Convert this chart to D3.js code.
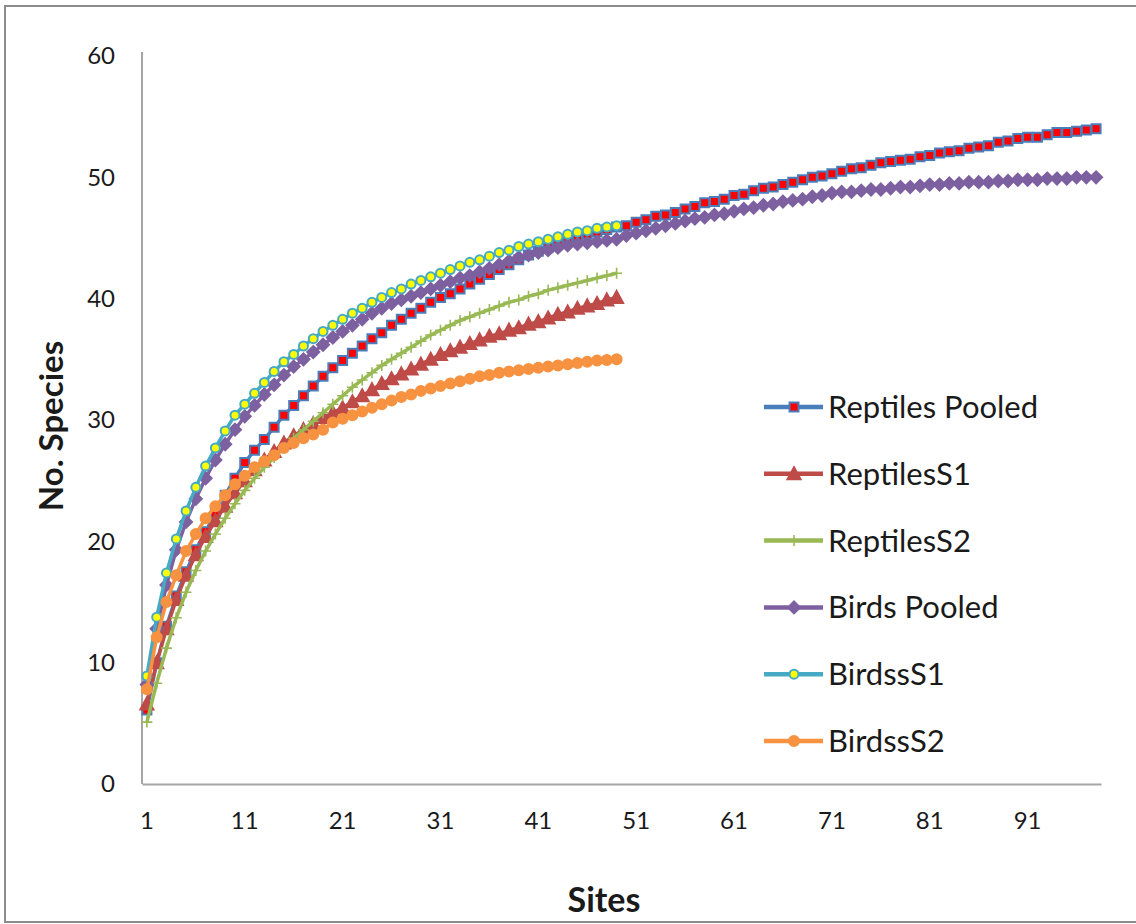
<!DOCTYPE html>
<html>
<head>
<meta charset="utf-8">
<script src="https://cdn.jsdelivr.net/npm/d3@7/dist/d3.min.js"></script>
<style>
  body { margin: 0; background: #fff; }
  svg text { font-family: Lato, "Liberation Sans", sans-serif; fill: #1a1a1a; }
</style>
</head>
<body>
<div id="chart"></div>
<script>
// species accumulation values
var seriesNames = ['Reptiles Pooled', 'ReptilesS1', 'ReptilesS2', 'Birds Pooled', 'BirdssS1', 'BirdssS2'];

var reptilesPooled = [
  6.1, 10.0, 13.0, 15.5, 17.5, 19.3, 20.8, 22.3, 23.8, 25.2,
  26.5, 27.5, 28.4, 29.4, 30.4, 31.2, 32.0, 32.8, 33.6, 34.3,
  34.9, 35.5, 36.1, 36.7, 37.2, 37.8, 38.3, 38.8, 39.2, 39.7,
  40.1, 40.4, 40.8, 41.2, 41.6, 42.0, 42.4, 42.8, 43.2, 43.6,
  43.9, 44.2, 44.5, 44.8, 45.0, 45.3, 45.5, 45.7, 45.9, 46.0,
  46.3, 46.5, 46.8, 46.9, 47.1, 47.4, 47.6, 47.9, 48.0, 48.2,
  48.5, 48.6, 48.9, 49.1, 49.2, 49.4, 49.6, 49.8, 50.0, 50.1,
  50.3, 50.5, 50.7, 50.8, 51.0, 51.2, 51.3, 51.4, 51.5, 51.7,
  51.8, 52.0, 52.1, 52.2, 52.4, 52.5, 52.6, 52.9, 53.0, 53.2,
  53.3, 53.3, 53.5, 53.7, 53.7, 53.8, 53.9, 54.0
];
var reptilesS1 = [
  6.6, 10.0, 12.8, 15.2, 17.2, 18.9, 20.4, 21.7, 22.9, 24.0,
  25.0, 25.9, 26.7, 27.4, 28.1, 28.7, 29.2, 29.7, 30.2, 30.6,
  31.0, 31.5, 32.0, 32.5, 33.0, 33.4, 33.8, 34.2, 34.6, 35.0,
  35.4, 35.7, 36.0, 36.3, 36.6, 36.9, 37.1, 37.4, 37.6, 37.9,
  38.1, 38.4, 38.7, 38.9, 39.2, 39.4, 39.6, 39.9, 40.1
];
var reptilesS2 = [
  5.1, 8.3, 11.2, 13.7, 15.8, 17.6, 19.2, 20.6, 21.9, 23.1,
  24.2, 25.2, 26.1, 26.9, 27.7, 28.5, 29.2, 29.9, 30.6, 31.3,
  32.0, 32.7, 33.3, 33.9, 34.5, 35.0, 35.5, 36.0, 36.5, 37.0,
  37.4, 37.8, 38.2, 38.5, 38.8, 39.1, 39.4, 39.7, 39.9, 40.2,
  40.4, 40.7, 40.9, 41.1, 41.3, 41.5, 41.7, 41.9, 42.1
];
var birdsPooled = [
  8.2, 12.8, 16.4, 19.3, 21.6, 23.5, 25.2, 26.7, 28.0, 29.2,
  30.3, 31.2, 32.1, 32.9, 33.7, 34.4, 35.0, 35.6, 36.2, 36.8,
  37.3, 37.8, 38.3, 38.8, 39.2, 39.6, 39.9, 40.2, 40.5, 40.8,
  41.1, 41.4, 41.7, 41.9, 42.2, 42.5, 42.8, 43.1, 43.4, 43.6,
  43.8, 44.0, 44.2, 44.4, 44.5, 44.6, 44.7, 44.8, 44.9, 45.2,
  45.4, 45.6, 45.8, 46.0, 46.2, 46.4, 46.6, 46.7, 46.9, 47.0,
  47.2, 47.4, 47.5, 47.7, 47.8, 48.0, 48.1, 48.2, 48.4, 48.5,
  48.7, 48.8, 48.8, 48.9, 49.0, 49.0, 49.1, 49.2, 49.2, 49.3,
  49.4, 49.4, 49.5, 49.5, 49.6, 49.6, 49.6, 49.7, 49.7, 49.8,
  49.8, 49.8, 49.9, 49.9, 49.9, 50.0, 50.0, 50.0
];
var birdsS1 = [
  8.9, 13.75, 17.4, 20.2, 22.5, 24.45, 26.2, 27.7, 29.1, 30.4,
  31.3, 32.2, 33.1, 34.0, 34.8, 35.4, 36.1, 36.7, 37.3, 37.8,
  38.3, 38.8, 39.2, 39.7, 40.1, 40.5, 40.8, 41.2, 41.5, 41.8,
  42.1, 42.4, 42.7, 43.0, 43.2, 43.5, 43.8, 44.0, 44.3, 44.5,
  44.7, 44.9, 45.1, 45.3, 45.5, 45.6, 45.8, 45.9, 46.0
];
var birdsS2 = [
  7.8, 12.1, 15.0, 17.2, 19.2, 20.6, 21.9, 22.9, 23.8, 24.7,
  25.4, 26.1, 26.6, 27.1, 27.7, 28.1, 28.5, 28.8, 29.2, 29.8,
  30.1, 30.4, 30.7, 31.0, 31.3, 31.6, 31.9, 32.1, 32.4, 32.6,
  32.8, 33.0, 33.2, 33.4, 33.6, 33.7, 33.9, 34.0, 34.1, 34.2,
  34.3, 34.4, 34.5, 34.6, 34.7, 34.8, 34.9, 34.95, 35.0
];

var siteCount = 98;
var xTickLabels = [1, 11, 21, 31, 41, 51, 61, 71, 81, 91];
var yTickLabels = [0, 10, 20, 30, 40, 50, 60];

var width = 1136, height = 924;
var plot = { left: 142, right: 1101, top: 56, bottom: 784 };

var svg = d3.select('#chart').append('svg')
  .attr('width', width)
  .attr('height', height);

// chart frame
svg.append('rect')
  .attr('x', 5).attr('y', 6)
  .attr('width', 1140).attr('height', 916)
  .attr('fill', 'none')
  .attr('stroke', '#8c8c8c')
  .attr('stroke-width', 2);

var x = d3.scaleBand()
  .domain(d3.range(1, siteCount + 1))
  .range([plot.left, plot.right])
  .padding(0);

var y = d3.scaleLinear()
  .domain([0, 60])
  .range([plot.bottom, plot.top]);

var px = function(i) { return x(i + 1) + x.bandwidth() / 2; };

// axes
var yAxis = svg.append('g')
  .attr('transform', 'translate(' + plot.left + ',0)')
  .call(d3.axisLeft(y).tickValues(yTickLabels).tickSize(0).tickPadding(27));
yAxis.select('.domain').attr('stroke', '#a6a6a6').attr('stroke-width', 2)
  .attr('d', 'M0,' + plot.bottom + 'V52');
yAxis.selectAll('text').attr('font-size', 24).attr('font-family', 'Lato, sans-serif');

var xAxis = svg.append('g')
  .attr('transform', 'translate(0,' + plot.bottom + ')')
  .call(d3.axisBottom(x).tickValues(xTickLabels).tickSize(0).tickPadding(28));
xAxis.select('.domain').attr('stroke', '#a6a6a6').attr('stroke-width', 2);
xAxis.selectAll('text').attr('font-size', 24).attr('font-family', 'Lato, sans-serif');

// axis titles
svg.append('text')
  .attr('transform', 'translate(63,426) rotate(-90)')
  .attr('text-anchor', 'middle')
  .attr('font-size', 33)
  .attr('font-weight', 'bold')
  .text('No. Species');

svg.append('text')
  .attr('x', 604).attr('y', 912)
  .attr('text-anchor', 'middle')
  .attr('font-size', 34)
  .attr('font-weight', 'bold')
  .text('Sites');

var styles = [
  { data: reptilesPooled, line: '#4a7ebb', marker: 'square', fill: '#ff0000', stroke: '#4a7ebb', size: 9 },
  { data: reptilesS1, line: '#be4b48', marker: 'triangle', fill: '#be4b48', stroke: '#be4b48', size: 11 },
  { data: reptilesS2, line: '#98b954', marker: 'plus', fill: 'none', stroke: '#98b954', size: 11 },
  { data: birdsPooled, line: '#7d60a0', marker: 'diamond', fill: '#7d60a0', stroke: '#7d60a0', size: 12 },
  { data: birdsS1, line: '#46aac5', marker: 'circle', fill: '#ffff00', stroke: '#46aac5', size: 9 },
  { data: birdsS2, line: '#f69240', marker: 'circle', fill: '#f69240', stroke: '#f69240', size: 10 }
];

var markerPath = function(kind, s) {
  var h = s / 2;
  if (kind === 'square') return 'M' + -h + ',' + -h + 'h' + s + 'v' + s + 'h' + -s + 'Z';
  if (kind === 'triangle') return 'M0,' + (-h - 1) + 'L' + (h + 1) + ',' + h + 'L' + (-h - 1) + ',' + h + 'Z';
  if (kind === 'diamond') return 'M0,' + -h + 'L' + h + ',0L0,' + h + 'L' + -h + ',0Z';
  if (kind === 'plus') return 'M' + -h + ',0H' + h + 'M0,' + -h + 'V' + h;
  return d3.symbol(d3.symbolCircle, Math.PI * h * h)();
};

var line = d3.line()
  .x(function(d, i) { return px(i); })
  .y(function(d) { return y(d); });

var series = svg.append('g').attr('class', 'series');

styles.forEach(function(st) {
  var g = series.append('g');
  g.append('path')
    .attr('d', line(st.data))
    .attr('fill', 'none')
    .attr('stroke', st.line)
    .attr('stroke-width', 3.5)
    .attr('stroke-linejoin', 'round');

  g.selectAll('path.mk')
    .data(st.data)
    .enter().append('path')
    .attr('class', 'mk')
    .attr('transform', function(d, i) { return 'translate(' + px(i) + ',' + y(d) + ')'; })
    .attr('d', markerPath(st.marker, st.size))
    .attr('fill', st.fill)
    .attr('stroke', st.stroke)
    .attr('stroke-width', st.marker === 'plus' ? 1.6 : 2);
});

// legend
var legend = svg.append('g').attr('class', 'legend');
var legendY = d3.scalePoint().domain(seriesNames).range([407, 741]);

seriesNames.forEach(function(name, k) {
  var st = styles[k];
  var ly = legendY(name);
  legend.append('line')
    .attr('x1', 764).attr('x2', 823)
    .attr('y1', ly).attr('y2', ly)
    .attr('stroke', st.line)
    .attr('stroke-width', 4.5);
  legend.append('path')
    .attr('transform', 'translate(794,' + ly + ')')
    .attr('d', markerPath(st.marker, st.size))
    .attr('fill', st.fill)
    .attr('stroke', st.stroke)
    .attr('stroke-width', st.marker === 'plus' ? 1.6 : 2);
  legend.append('text')
    .attr('x', 828).attr('y', ly + 11)
    .attr('font-size', 31)
    .text(name);
});
</script>
</body>
</html>
